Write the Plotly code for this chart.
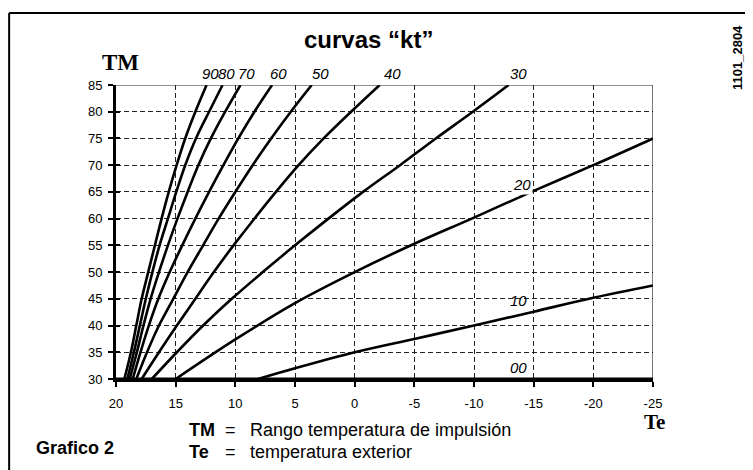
import plotly.graph_objects as go

# ---- data ----
tm_levels = [30, 35, 40, 45, 50, 55, 60, 65, 70, 75, 80, 85]
te_kt90 = [19.3, 18.75, 18.3, 17.85, 17.3, 16.74, 16.18, 15.58, 14.92, 14.2, 13.35, 12.41]
te_kt80 = [19.05, 18.5, 18.0, 17.5, 16.95, 16.35, 15.65, 14.95, 14.2, 13.3, 12.2, 11.07]
te_kt70 = [18.85, 18.25, 17.7, 17.1, 16.4, 15.65, 14.85, 14.0, 13.1, 12.05, 10.85, 9.57]
te_kt60 = [18.6, 17.95, 17.25, 16.45, 15.5, 14.45, 13.35, 12.2, 11.0, 9.75, 8.4, 6.92]
te_kt50 = [18.3, 17.4, 16.4, 15.2, 14.0, 12.7, 11.4, 10.0, 8.55, 7.0, 5.35, 3.6]
te_kt40 = [17.85, 16.4, 14.9, 13.35, 11.8, 10.15, 8.4, 6.6, 4.7, 2.6, 0.3, -2.1]
te_kt30 = [17.0, 14.9, 12.7, 10.3, 7.7, 5.0, 2.2, -0.7, -3.8, -6.8, -9.9, -12.9]

te_kt20 = [15, 10, 5, 0, -5, -10, -15, -20, -25]
tm_kt20 = [30, 37.4, 44.2, 50, 55.3, 60.2, 65.2, 70, 75]
te_kt10 = [8.1, 5, 0, -5, -10, -15, -20, -25]
tm_kt10 = [30, 32, 35, 37.5, 40, 42.6, 45.2, 47.5]
te_kt00 = [20, -25]
tm_kt00 = [30, 30]

x_ticks = [20, 15, 10, 5, 0, -5, -10, -15, -20, -25]
y_ticks = [30, 35, 40, 45, 50, 55, 60, 65, 70, 75, 80, 85]

top_labels = ["90", "80", "70", "60", "50", "40", "30"]
top_label_te = [12.1, 10.7, 9.1, 6.4, 2.9, -3.2, -13.7]
top_label_tm = 87.1
side_labels = ["20", "10", "00"]
side_label_te = [-14.0, -13.7, -13.7]
side_label_tm = [66.4, 44.6, 32.1]

Y0, Y1 = 30, 85

fig = go.Figure()
curves = [te_kt90, te_kt80, te_kt70, te_kt60, te_kt50, te_kt40, te_kt30]
for te in curves:
    fig.add_trace(go.Scatter(x=te, y=tm_levels, mode="lines",
                             line=dict(color="black", width=2.6, shape="spline", smoothing=1.0),
                             showlegend=False, hoverinfo="skip"))
fig.add_trace(go.Scatter(x=te_kt20, y=tm_kt20, mode="lines",
                         line=dict(color="black", width=2.6, shape="spline", smoothing=1.0),
                         showlegend=False, hoverinfo="skip"))
fig.add_trace(go.Scatter(x=te_kt10, y=tm_kt10, mode="lines",
                         line=dict(color="black", width=2.6, shape="spline", smoothing=1.0),
                         showlegend=False, hoverinfo="skip"))
fig.add_trace(go.Scatter(x=te_kt00, y=tm_kt00, mode="lines", line=dict(color="black", width=3),
                         showlegend=False, hoverinfo="skip"))
# helper trace for inside ticks axis
fig.add_trace(go.Scatter(x=te_kt00, y=tm_kt00, mode="lines", line=dict(color="rgba(0,0,0,0)", width=0),
                         yaxis="y2", showlegend=False, hoverinfo="skip"))

tickfont = dict(family="Liberation Sans, Arial, sans-serif", size=13, color="black")
fig.update_layout(
    width=745, height=462,
    margin=dict(l=108, r=100, t=77, b=91),
    paper_bgcolor="white", plot_bgcolor="white",
    xaxis=dict(range=[20, -25], tickvals=x_ticks, ticktext=[str(v) for v in x_ticks],
               showgrid=True, gridcolor="#222", gridwidth=1, griddash="5px,3px",
               showline=True, linecolor="black", linewidth=3,
               ticks="outside", ticklen=5, tickwidth=2, tickcolor="black",
               tickfont=tickfont, ticklabelstandoff=5, zeroline=False),
    yaxis=dict(range=[Y0, Y1], tickvals=y_ticks, showgrid=True, gridcolor="#222", gridwidth=1,
               griddash="5px,3px", showline=True, linecolor="black", linewidth=3,
               ticks="outside", ticklen=5, tickwidth=2, tickcolor="black",
               tickfont=tickfont, ticklabelstandoff=3, zeroline=False),
    yaxis2=dict(range=[Y0, Y1], tickvals=y_ticks, overlaying="y", side="left", anchor="x",
                showgrid=False, showline=False, ticks="inside", ticklen=4, tickwidth=2,
                tickcolor="black", showticklabels=False, zeroline=False),
)

# borders of plot (top & right thin)
fig.add_shape(type="line", xref="x", yref="y", x0=20, x1=-25, y0=85, y1=85, line=dict(color="#222", width=1))
fig.add_shape(type="line", xref="x", yref="y", x0=-25, x1=-25, y0=30, y1=85, line=dict(color="#222", width=1.2))

# outer frame (open at bottom)
fig.add_shape(type="line", xref="paper", yref="paper", x0=-0.199, x1=1.18, y0=1.245, y1=1.245,
              line=dict(color="black", width=2))
fig.add_shape(type="line", xref="paper", yref="paper", x0=-0.199, x1=-0.199, y0=1.245, y1=-0.33,
              line=dict(color="black", width=2))
fig.add_shape(type="line", xref="paper", yref="paper", x0=1.18, x1=1.18, y0=1.245, y1=-0.33,
              line=dict(color="black", width=2))

labfont = dict(family="Liberation Sans, Arial, sans-serif", size=15, color="black")
for t, xv in zip(top_labels, top_label_te):
    fig.add_annotation(x=xv, y=(top_label_tm - Y0) / (Y1 - Y0), xref="x", yref="paper",
                       text="<i>" + t + "</i>", showarrow=False,
                       font=labfont, xanchor="center", yanchor="middle")
for t, xv, yv in zip(side_labels, side_label_te, side_label_tm):
    fig.add_annotation(x=xv, y=yv, xref="x", yref="y", text="<i>" + t + "</i>", showarrow=False,
                       font=labfont, xanchor="center", yanchor="middle", bgcolor="white" if t == "20" else None)


def px_x(px):
    return (px - 116) / 537.0


def px_y(py):
    return (379 - py) / 294.0


# title
fig.add_annotation(x=px_x(368), y=px_y(39), xref="paper", yref="paper", text="<b>curvas \u201ckt\u201d</b>",
                   showarrow=False, font=dict(family="Liberation Sans, Arial, sans-serif", size=24, color="black"),
                   xanchor="center", yanchor="middle")
# axis names
fig.add_annotation(x=px_x(120), y=px_y(63), xref="paper", yref="paper", text="<b>TM</b>", showarrow=False,
                   font=dict(family="Liberation Serif, Times New Roman, serif", size=23, color="black"),
                   xanchor="center", yanchor="middle")
fig.add_annotation(x=px_x(654), y=px_y(422), xref="paper", yref="paper", text="<b>Te</b>", showarrow=False,
                   font=dict(family="Liberation Serif, Times New Roman, serif", size=21, color="black"),
                   xanchor="center", yanchor="middle")

# legend text
lf = dict(family="Liberation Sans, Arial, sans-serif", size=18, color="black")
fig.add_annotation(x=px_x(187), y=px_y(430), xref="paper", yref="paper", text="<b>TM</b>", showarrow=False,
                   font=lf, xanchor="left", yanchor="middle")
fig.add_annotation(x=px_x(230), y=px_y(430), xref="paper", yref="paper", text="=", showarrow=False,
                   font=lf, xanchor="center", yanchor="middle")
fig.add_annotation(x=px_x(248), y=px_y(430), xref="paper", yref="paper", text="Rango temperatura de impulsión",
                   showarrow=False, font=lf, xanchor="left", yanchor="middle")
fig.add_annotation(x=px_x(187), y=px_y(452), xref="paper", yref="paper", text="<b>Te</b>", showarrow=False,
                   font=lf, xanchor="left", yanchor="middle")
fig.add_annotation(x=px_x(230), y=px_y(452), xref="paper", yref="paper", text="=", showarrow=False,
                   font=lf, xanchor="center", yanchor="middle")
fig.add_annotation(x=px_x(248), y=px_y(452), xref="paper", yref="paper", text="temperatura exterior",
                   showarrow=False, font=lf, xanchor="left", yanchor="middle")
fig.add_annotation(x=px_x(34), y=px_y(448), xref="paper", yref="paper", text="<b>Grafico 2</b>", showarrow=False,
                   font=lf, xanchor="left", yanchor="middle")
fig.add_annotation(x=px_x(737), y=px_y(58), xref="paper", yref="paper", text="<b>1101_2804</b>", showarrow=False,
                   font=dict(family="Liberation Sans, Arial, sans-serif", size=13, color="black"),
                   textangle=-90, xanchor="center", yanchor="middle")

fig.write_html("out.html")
